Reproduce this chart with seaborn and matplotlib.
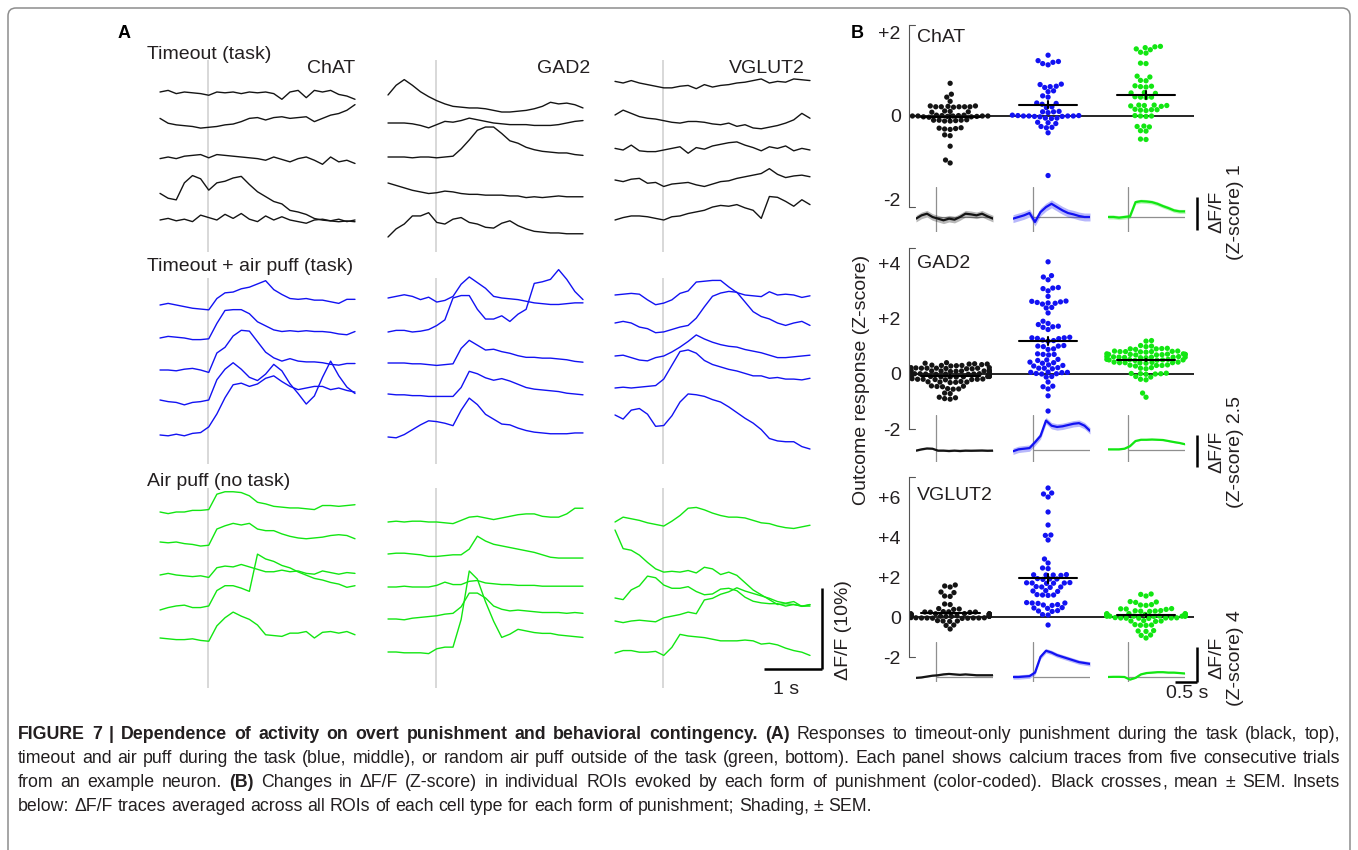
import warnings
warnings.filterwarnings("ignore")
import numpy as np
import pandas as pd
import matplotlib
matplotlib.use("Agg")
import matplotlib.pyplot as plt
import matplotlib.transforms as mtrans
from matplotlib.patches import FancyBboxPatch
import seaborn as sns

# ------------------------------------------------------------------ data
CELL_TYPES = ["ChAT", "GAD2", "VGLUT2"]
CONDITIONS = ["Timeout (task)", "Timeout + air puff (task)", "Air puff (no task)"]
GROUPS = ["Timeout", "Timeout + air puff", "Air puff"]

# sampling times (s) of the example single-trial traces, panel A
TRACE_T = np.linspace(-0.83, 2.53, 25)

# Panel A example traces, dF/F (%) relative to each trace's start level
chat_timeout = [
    [0, 0.2, -0.2, 0, -0.1, -0.2, -0.4, 0, -0.1, 0, -0.2, 0, -0.1, 0, -0.2, -0.9, 0, 0.2, -0.7, 0.2, 0, 0.2, -0.3, -0.5, -0.9],
    [0.2, -0.4, -0.6, -0.7, -0.8, -1.0, -0.9, -0.8, -0.6, -0.5, -0.2, 0.2, 0.3, 0, 0.3, 0.4, 0.2, 0.3, 0.4, -0.2, 0.2, 0.6, 0.8, 1.2, 1.9],
    [-0.2, 0, -0.2, 0.1, 0.2, 0.3, -0.1, 0.3, 0.2, 0.1, 0, -0.1, -0.2, -0.4, 0, -0.3, -0.6, -0.2, 0, -0.4, -0.9, 0, -0.6, -0.4, -0.8],
    [0.2, -0.4, -0.6, 1.5, 2.4, 2.0, 0.6, 1.5, 1.7, 2.1, 2.3, 1.3, 0.4, -0.2, -0.8, -1.1, -1.9, -2.1, -2.4, -2.9, -3.1, -3.2, -3.3, -3.2, -3.3],
    [0, 0.2, -0.1, 0.1, -0.2, 0.6, 0.3, 0, 0.7, 0.2, 0.8, 0.1, -0.2, 0.5, 0, 0.4, 0, -0.2, -0.4, 0, 0.1, -0.1, 0.1, -0.2, 0],
]
gad2_timeout = [
    [0, 1.2, 1.9, 1.2, 0.4, -0.2, -0.7, -1.1, -1.4, -1.5, -1.6, -1.6, -1.7, -1.9, -2.1, -2.1, -2.0, -1.9, -1.7, -1.4, -0.9, -1.1, -1.0, -1.2, -1.6],
    [0, 0, 0, -0.1, -0.3, -0.6, -0.2, 0.2, 0.1, 0.3, 0.6, 0.4, 0.2, 0, -0.1, -0.2, -0.2, -0.2, -0.3, -0.3, -0.3, -0.2, 0, 0.2, 0.3],
    [0, 0, 0, -0.1, 0, 0, -0.1, 0, 0.1, 1.0, 2.1, 3.3, 3.7, 3.7, 2.9, 2.0, 1.7, 1.2, 0.9, 0.7, 0.6, 0.5, 0.5, 0.3, 0.2],
    [0, -0.3, -0.6, -0.9, -1.1, -1.3, -1.2, -1.0, -1.1, -1.3, -1.4, -1.4, -1.5, -1.5, -1.5, -1.6, -1.6, -1.8, -1.7, -1.8, -1.7, -1.6, -1.7, -1.7, -1.7],
    [0, 1.0, 1.6, 2.6, 2.6, 3.0, 1.8, 1.6, 2.2, 2.4, 1.8, 1.6, 1.2, 1.1, 1.7, 2.0, 1.4, 1.0, 0.7, 0.6, 0.5, 0.5, 0.4, 0.4, 0.4],
]
vglut2_timeout = [
    [0.2, 0, 0.3, 0, -0.2, -0.4, -0.6, -0.6, -0.4, -0.3, -0.7, -0.2, -0.5, -0.3, -0.2, 0, 0.1, 0.3, 0.5, 0, 0.2, 0.1, 0.5, 0.4, 0.3],
    [0, 0.6, 0.2, -0.2, -0.4, -0.5, -0.7, -0.9, -1.0, -0.8, -0.8, -0.9, -1.1, -1.2, -1.0, -1.4, -1.2, -1.6, -1.7, -1.5, -1.3, -1.0, -0.6, 0.2, -0.4],
    [0.2, 0, 0.6, -0.1, -0.2, -0.2, 0, 0.2, 0.4, -0.4, 0.3, 0.1, 0.5, 0.7, 0.9, 1.0, 0.6, 0.3, -0.1, 0.4, 0.2, 0.5, -0.1, 0.2, 0],
    [0, -0.2, 0.1, 0.2, -0.4, -0.3, -0.8, -0.5, -0.4, -0.3, -0.6, -0.8, -0.5, -0.2, -0.1, 0.2, 0.4, 0.6, 0.8, 1.4, 0.7, 0.3, 0.5, 0.6, 0.4],
    [0, 0.3, 0.5, 0.5, 0.4, 0.2, 0, 0.4, 0.5, 0.8, 1.0, 1.2, 1.6, 1.8, 1.7, 1.9, 1.5, 1.2, 0.2, 2.9, 2.8, 2.3, 1.7, 2.5, 1.9],
]
chat_puff_task = [
    [0, 0.2, 0, -0.2, -0.4, -0.5, -0.6, 0.8, 1.5, 1.6, 2.0, 2.2, 2.6, 3.0, 1.9, 1.3, 0.8, 0.7, 0.8, 0.6, 0.6, 0.4, 0.2, 0.7, 0.7],
    [0, 0.2, 0.1, 0, -0.2, -0.2, -0.1, 1.8, 3.4, 3.5, 3.5, 3.0, 2.0, 1.5, 1.0, 0.8, 0.9, 0.8, 0.9, 0.8, 0.8, 0.7, 0.5, 0.4, 0.8],
    [0, 0, -0.1, 0.1, 0.2, 0, -0.3, 2.1, 2.8, 4.2, 4.9, 4.8, 3.5, 2.2, 1.5, 1.1, 1.4, 1.1, 1.0, 1.0, 0.9, 0.7, 0.6, 0.8, 0.8],
    [0, -0.2, -0.3, -0.6, -0.3, -0.2, 0.0, 2.5, 3.8, 4.6, 3.8, 2.8, 2.4, 3.2, 4.4, 3.6, 2.0, 0.8, -0.5, 0.5, 2.8, 4.8, 3.0, 1.6, 0.8],
    [0, -0.1, 0.1, -0.1, 0.2, 0.3, 1.0, 2.6, 4.6, 6.2, 6.4, 6.0, 6.3, 7.0, 7.3, 6.6, 6.0, 5.6, 5.8, 6.0, 6.0, 5.6, 5.8, 5.5, 5.3],
]
gad2_puff_task = [
    [0, 0.2, 0.4, 0.2, -0.2, 0.1, -0.5, -0.3, 0.2, 1.7, 2.6, 1.9, 1.2, 0.2, 0, -0.1, -0.2, -0.4, -0.6, -0.7, -0.8, -0.8, -0.7, -0.6, -0.6],
    [0, 0.2, 0.2, 0, 0.1, 0.3, 0.8, 1.5, 4.2, 4.5, 4.5, 2.8, 1.6, 1.6, 2.0, 1.3, 2.2, 2.8, 6.0, 6.2, 6.5, 7.7, 6.5, 5.0, 4.0],
    [0, 0, 0, -0.1, -0.1, -0.2, -0.3, -0.2, -0.1, 1.8, 2.8, 2.2, 1.6, 1.7, 1.4, 1.2, 0.9, 0.7, 0.7, 0.6, 0.6, 0.5, 0.4, 0.2, 0.1],
    [0, -0.1, -0.1, -0.2, -0.2, -0.3, -0.3, -0.3, -0.3, 0.8, 2.8, 2.5, 2.0, 1.7, 1.9, 1.6, 1.2, 0.8, 0.6, 0.5, 0.4, 0.3, 0.1, 0, -0.1],
    [0, -0.1, 0.3, 0.9, 1.5, 2.0, 1.9, 1.7, 1.4, 3.3, 4.8, 4.0, 2.8, 2.2, 1.6, 1.5, 1.1, 0.8, 0.6, 0.5, 0.4, 0.4, 0.4, 0.5, 0.5],
]
vglut2_puff_task = [
    [0, 0.1, 0.2, 0.1, -0.6, -1.2, -1.0, -0.6, 0.2, 0.5, 1.6, 1.7, 1.8, 1.8, 1.0, 0.3, 0, -0.1, -0.2, 0.4, 0, 0.1, 0, -0.3, -0.1],
    [0, 0.2, 0, -0.5, -0.7, -1.2, -1.1, -0.8, -0.5, -0.3, 0.6, 2.0, 3.3, 3.7, 3.9, 3.8, 2.6, 1.4, 0.8, 0.5, 0, -0.3, 0, 0.2, -0.3],
    [0, 0.1, -0.2, -0.5, -0.6, -0.2, 0, 0.5, 1.1, 1.8, 2.6, 2.1, 1.7, 1.4, 1.2, 1.1, 0.8, 0.6, 0.4, 0.1, -0.2, -0.2, -0.1, 0, 0.1],
    [0, 0.1, 0, 0.1, 0.2, 0.3, 1.1, 2.8, 4.5, 4.7, 4.3, 3.4, 2.9, 2.6, 2.3, 2.1, 1.8, 1.5, 1.5, 1.2, 1.3, 1.1, 1.1, 1.0, 1.2],
    [0, -0.5, 0.6, 0.8, 0.1, -1.4, -1.3, -0.1, 1.6, 2.6, 2.5, 2.3, 1.9, 1.6, 1.0, 0.3, -0.4, -1.0, -1.8, -2.9, -3.2, -3.3, -3.3, -3.9, -4.2],
]
chat_puff_notask = [
    [0, -0.2, 0, 0, 0.2, 0.2, 0.3, 2.2, 2.5, 2.5, 2.4, 2.0, 1.2, 1.0, 0.7, 0.6, 0.5, 0.5, 0.4, 0.3, 0.8, 0.8, 0.7, 0.8, 0.9],
    [0, -0.1, 0, -0.2, -0.3, -0.5, -0.4, 1.6, 2.0, 2.3, 2.1, 2.3, 1.6, 1.4, 1.4, 1.0, 0.7, 0.5, 0.4, 0.5, 0.6, 0.8, 0.9, 0.8, 0.4],
    [0, 0.2, 0, -0.1, -0.2, -0.1, -0.3, 0.9, 1.1, 1.0, 1.3, 1.0, 0.7, 0.4, 0.4, 0.6, 0.4, 0.5, 0.2, 0.1, 0.5, 0.3, 0.1, 0.3, 0.2],
    [0, 0.3, 0.5, 0.6, 0.3, 0.3, 0.5, 2.4, 3.0, 3.0, 2.7, 2.3, 6.9, 6.3, 6.0, 5.5, 5.2, 4.7, 4.3, 3.9, 3.7, 3.4, 3.2, 2.8, 3.0],
    [0, -0.1, -0.2, -0.2, -0.1, -0.3, -0.4, 1.5, 2.5, 3.2, 2.7, 2.3, 1.6, 0.4, 0.3, 0.2, 0.6, 0.6, 0.8, 0, 0.7, 0.8, 0.6, 0.8, 0.4],
]
gad2_puff_notask = [
    [0, 0.1, 0, 0.1, 0.1, 0, 0, -0.1, -0.2, 0.2, 0.6, 0.7, 0.5, 0.3, 0.5, 0.7, 0.9, 1.0, 1.0, 0.7, 0.6, 0.6, 1.0, 1.7, 1.7],
    [0, 0.1, 0.1, 0, -0.1, -0.3, -0.3, -0.2, -0.1, -0.1, 0.6, 2.2, 1.6, 1.2, 1.0, 0.8, 0.6, 0.4, 0.2, -0.1, -0.4, -0.5, -0.5, -0.5, -0.5],
    [0, 0, 0.1, 0, 0, 0, 0.2, 0.6, 0.3, 0.3, 0.7, 0.8, 0.5, 0.4, 0.3, 0.3, 0.2, 0.2, 0.2, 0.1, 0.1, 0.1, 0.1, 0.1, 0.1],
    [0, 0, -0.1, 0.1, 0.2, 0.3, 0.4, 0.6, 0.7, 1.5, 3.2, 3.2, 2.6, 1.6, 1.2, 1.0, 1.1, 1.0, 0.9, 0.8, 0.8, 0.8, 0.7, 0.8, 0.7],
    [0, 0, -0.1, -0.1, -0.1, -0.2, 0.4, 0.6, 0.6, 4.0, 10.0, 9.0, 6.2, 3.8, 1.8, 2.2, 2.8, 2.6, 2.4, 2.3, 2.3, 2.1, 2.0, 1.9, 1.8],
]
vglut2_puff_notask = [
    [0, 0.6, 0.4, 0.2, -0.1, -0.3, -0.5, 0.1, 0.8, 1.7, 1.8, 1.5, 1.1, 0.8, 0.6, 0.6, 0.5, 0.2, -0.1, -0.2, -0.5, -0.7, -0.8, -0.6, -0.4],
    [0, -2.3, -2.5, -3.1, -4.0, -4.8, -5.2, -5.1, -5.2, -5.0, -5.3, -4.6, -4.8, -5.5, -5.2, -5.6, -6.5, -7.4, -8.0, -8.6, -9.2, -9.1, -9.2, -9.4, -9.2],
    [0, -0.2, 1.0, 1.5, 2.7, 2.5, 1.6, 1.2, 1.2, 1.4, 0.8, 0.4, 0.5, 1.1, 1.2, 0.9, 0.1, -0.4, -0.6, -0.7, -0.7, -1.0, -0.8, -1.0, -1.0],
    [0, -0.2, 0, 0.1, 0, -0.1, 0.4, 0.6, 0.8, 1.1, 0.9, 2.6, 2.8, 3.3, 3.6, 4.1, 3.7, 3.4, 3.1, 2.8, 2.4, 2.2, 2.4, 1.8, 2.0],
    [0, 0.3, 0.3, 0.1, 0.1, 0.2, -0.3, 0.7, 2.3, 2.1, 2.0, 1.9, 1.7, 1.5, 1.5, 1.5, 1.6, 1.5, 1.1, 1.2, 1.0, 0.6, 0.3, 0.1, -0.3],
]
TRACES = [
    [chat_timeout, gad2_timeout, vglut2_timeout],
    [chat_puff_task, gad2_puff_task, vglut2_puff_task],
    [chat_puff_notask, gad2_puff_notask, vglut2_puff_notask],
]

# Panel B: outcome responses (Z-score) of individual ROIs
chat_z_timeout = [0.78, 0.52, 0.45, 0.35, 0.24, 0.22, 0.22, 0.23, 0.21, 0.22, 0.22, 0.24, 0.22, 0.1, 0.11, 0.09, 0.12,
                  0.0, 0.01, -0.02, 0.0, 0.02, -0.03, 0.0, -0.01, 0.01, 0.0, -0.02, 0.02, 0.0, -0.01,
                  -0.1, -0.11, -0.12, -0.1, -0.09, -0.1, -0.12, -0.3, -0.31, -0.29, -0.32, -0.28, -0.45, -0.47, -0.72, -1.05, -1.12]
chat_z_puff_task = [1.45, 1.3, 1.28, 1.32, 1.22, 1.25, 0.76, 0.75, 0.7, 0.71, 0.68, 0.6, 0.58, 0.45, 0.48, 0.3, 0.31, 0.28,
                    0.2, 0.22, 0.1, 0.11, 0.08, 0.1, 0.0, 0.01, -0.01, 0.0, 0.02, -0.02, 0.0, 0.01, 0.0, -0.01,
                    -0.05, -0.06, -0.05, -0.18, -0.15, -0.16, -0.28, -0.25, -0.27, -0.4, -1.42]
chat_z_puff_notask = [1.65, 1.66, 1.63, 1.58, 1.6, 1.5, 1.52, 1.25, 1.26, 0.95, 0.93, 0.85, 0.84, 0.72, 0.7, 0.69, 0.71,
                      0.55, 0.56, 0.54, 0.45, 0.44, 0.46, 0.45, 0.25, 0.26, 0.24, 0.25, 0.23, 0.26, 0.15, 0.14, 0.16,
                      0.15, 0.13, 0.0, 0.01, -0.01, 0.0, -0.25, -0.24, -0.26, -0.35, -0.36, -0.55, -0.56]
gad2_z_timeout = [0.4, 0.38, 0.35, 0.35, 0.33, 0.36, 0.3, 0.3, 0.28, 0.31, 0.29, 0.2, 0.22, 0.2, 0.18, 0.21, 0.19, 0.2,
                  0.22, 0.18, 0.2, 0.1, 0.12, 0.1, 0.08, 0.11, 0.1, 0.09, 0.12, 0.1, 0.1, 0.0, 0.02, -0.01, 0.0, 0.01,
                  -0.02, 0.0, 0.02, 0.0, -0.01, 0.01, 0.0, -0.02, 0.0, 0.01, -0.01, -0.1, -0.11, -0.09, -0.1, -0.12,
                  -0.1, -0.08, -0.1, -0.11, -0.09, -0.1, -0.12, -0.2, -0.21, -0.19, -0.2, -0.22, -0.18, -0.2, -0.21,
                  -0.3, -0.31, -0.29, -0.32, -0.3, -0.28, -0.45, -0.46, -0.44, -0.47, -0.55, -0.56, -0.54, -0.7, -0.72,
                  -0.85, -0.87, -0.9, -0.92]
gad2_z_puff_task = [4.05, 3.55, 3.5, 3.4, 3.1, 3.12, 3.08, 3.0, 2.8, 2.62, 2.6, 2.58, 2.63, 2.55, 2.52, 2.56, 2.4, 2.38,
                    2.2, 1.9, 1.82, 1.78, 1.7, 1.68, 1.72, 1.6, 1.3, 1.32, 1.28, 1.3, 1.27, 1.2, 1.22, 1.18, 1.0, 1.02,
                    0.98, 1.0, 0.9, 0.88, 0.7, 0.72, 0.68, 0.7, 0.52, 0.5, 0.48, 0.4, 0.42, 0.38, 0.3, 0.32, 0.28, 0.2,
                    0.22, 0.18, 0.2, 0.05, 0.04, 0.06, 0.05, 0.0, 0.01, -0.01, -0.1, -0.12, -0.3, -0.45, -0.47, -0.55,
                    -0.8, -1.35]
gad2_z_puff_notask = [1.2, 1.18, 1.0, 1.02, 0.98, 0.9, 0.92, 0.88, 0.9, 0.91, 0.8, 0.82, 0.78, 0.8, 0.81, 0.79, 0.8,
                      0.82, 0.7, 0.72, 0.68, 0.7, 0.71, 0.69, 0.7, 0.72, 0.68, 0.7, 0.6, 0.62, 0.58, 0.6, 0.61, 0.59,
                      0.6, 0.62, 0.58, 0.6, 0.5, 0.52, 0.48, 0.5, 0.51, 0.49, 0.5, 0.52, 0.4, 0.42, 0.38, 0.4, 0.41,
                      0.39, 0.4, 0.42, 0.3, 0.32, 0.28, 0.3, 0.31, 0.2, 0.22, 0.18, 0.0, 0.02, -0.01, 0.0, 0.01, -0.02,
                      -0.1, -0.12, -0.2, -0.22, -0.7, -0.85]
vglut2_z_timeout = [1.6, 1.55, 1.5, 1.25, 1.22, 1.05, 1.03, 0.65, 0.62, 0.4, 0.42, 0.38, 0.25, 0.26, 0.24, 0.25, 0.27,
                    0.23, 0.15, 0.16, 0.14, 0.15, 0.13, 0.17, 0.15, 0.16, 0.14, 0.15, 0.05, 0.06, 0.04, 0.05, 0.07,
                    0.03, 0.05, 0.06, 0.04, 0.05, 0.06, 0.04, 0.05, 0.03, 0.07, -0.05, -0.06, -0.04, -0.05, -0.07,
                    -0.03, -0.05, -0.06, -0.04, -0.05, -0.2, -0.22, -0.18, -0.2, -0.4, -0.42, -0.6]
vglut2_z_puff_task = [6.45, 6.2, 6.15, 6.0, 5.25, 4.6, 4.1, 4.08, 3.85, 2.9, 2.7, 2.45, 2.42, 2.1, 2.12, 2.08, 2.1, 2.11,
                      1.9, 1.92, 1.88, 1.9, 1.7, 1.72, 1.68, 1.7, 1.71, 1.69, 1.5, 1.52, 1.48, 1.5, 1.3, 1.32, 1.28,
                      1.1, 1.12, 1.08, 1.1, 0.7, 0.72, 0.68, 0.7, 0.6, 0.62, 0.58, 0.45, 0.47, 0.43, 0.3, 0.32, 0.28,
                      0.1, 0.12, -0.4]
vglut2_z_puff_notask = [1.15, 1.13, 1.05, 0.75, 0.77, 0.73, 0.6, 0.62, 0.58, 0.4, 0.42, 0.38, 0.41, 0.3, 0.32, 0.28,
                        0.31, 0.29, 0.15, 0.16, 0.14, 0.15, 0.13, 0.17, 0.15, 0.16, 0.05, 0.06, 0.04, 0.05, 0.07, 0.03,
                        0.05, 0.06, 0.04, 0.05, 0.06, 0.04, -0.05, -0.06, -0.04, -0.05, -0.07, -0.03, -0.05, -0.06,
                        -0.2, -0.22, -0.18, -0.2, -0.4, -0.42, -0.38, -0.41, -0.7, -0.72, -0.68, -0.9, -0.92, -1.05]
ZSCORES = [
    [chat_z_timeout, chat_z_puff_task, chat_z_puff_notask],
    [gad2_z_timeout, gad2_z_puff_task, gad2_z_puff_notask],
    [vglut2_z_timeout, vglut2_z_puff_task, vglut2_z_puff_notask],
]
Z_TICKS = [[-2, 0, 2], [-2, 0, 2, 4], [-2, 0, 2, 4, 6]]
Z_TICKLABELS = [["-2", "0", "+2"], ["-2", "0", "+2", "+4"], ["-2", "0", "+2", "+4", "+6"]]

# Panel B insets: averaged dF/F (Z-score) traces and their SEM
INSET_T = np.linspace(-0.45, 1.3, 15)
chat_mean = [
    [-0.05, 0.05, 0.1, 0.0, -0.05, -0.1, -0.05, -0.08, 0.0, 0.1, 0.08, 0.05, 0.1, 0.02, -0.05],
    [-0.05, 0.0, 0.05, 0.12, -0.15, 0.15, 0.3, 0.4, 0.3, 0.2, 0.12, 0.08, 0.03, 0.0, 0.0],
    [0.0, 0.0, -0.02, 0.0, 0.02, 0.45, 0.48, 0.47, 0.45, 0.4, 0.33, 0.27, 0.2, 0.17, 0.17],
]
gad2_mean = [
    [-0.05, 0.05, 0.12, 0.1, -0.05, -0.05, -0.08, -0.05, -0.08, -0.05, -0.06, -0.05, -0.04, -0.06, -0.05],
    [-0.1, 0.05, 0.1, 0.15, 0.6, 1.1, 2.3, 1.9, 1.8, 1.85, 1.95, 2.05, 2.1, 1.9, 1.5],
    [0.05, 0.05, 0.05, 0.1, 0.3, 0.7, 0.8, 0.8, 0.82, 0.8, 0.78, 0.7, 0.62, 0.55, 0.45],
]
vglut2_mean = [
    [-0.1, -0.05, 0.05, 0.15, 0.2, 0.3, 0.35, 0.3, 0.25, 0.3, 0.25, 0.2, 0.2, 0.2, 0.2],
    [0.0, 0.0, 0.05, 0.1, 0.5, 2.3, 3.0, 2.8, 2.5, 2.3, 2.1, 1.9, 1.7, 1.6, 1.5],
    [0.0, 0.02, 0.02, 0.0, -0.3, -0.1, 0.3, 0.45, 0.5, 0.55, 0.55, 0.5, 0.5, 0.45, 0.4],
]
INSET_MEANS = [chat_mean, gad2_mean, vglut2_mean]
INSET_SEM = [[0.1, 0.12, 0.06], [0.06, 0.25, 0.05], [0.06, 0.25, 0.05]]
INSET_SCALE_Z = [1, 2.5, 4]

# ------------------------------------------------------------------ style
sns.set_theme(style="white")
plt.rcParams["font.family"] = ["Liberation Sans", "DejaVu Sans"]
TXT = "#231f20"
COLORS = ["#141414", "#1212f2", "#12e612"]

W, H = 1358, 850
fig = plt.figure(figsize=(W / 100, H / 100), dpi=100)


def px_axes(x0, y0, x1, y1, off=True):
    ax = fig.add_axes([x0 / W, 1 - y1 / H, (x1 - x0) / W, (y1 - y0) / H])
    ax.patch.set_alpha(0)
    if off:
        ax.set_axis_off()
    return ax


def ftext(x, y, s, **kw):
    kw.setdefault("color", TXT)
    return fig.text(x / W, 1 - y / H, s, **kw)


# outer frame
frame = FancyBboxPatch((8, -30), 1342, 872, boxstyle="round,pad=0,rounding_size=8",
                       transform=mtrans.IdentityTransform(), fill=False,
                       ec="#8d8d8d", lw=1.1)
fig.patches.append(frame)

# ------------------------------------------------------------------ panel A
COL_X0 = [160, 388, 615]
TRACE_W = 195
PX_PER_PCT = 8.1
ROW_Y = [(60, 252), (278, 464), (488, 688)]
TRACE_Y0 = [
    [[92, 120, 157, 195, 220], [95, 123, 157, 183, 237], [83, 115, 150, 180, 220]],
    [[305, 338, 370, 400, 435], [298, 332, 363, 394, 437], [295, 323, 356, 388, 415]],
    [[512, 542, 575, 610, 638], [522, 554, 587, 619, 652], [522, 530, 598, 621, 653]],
]
panelA = {}
for r in range(3):
    top, bot = ROW_Y[r]
    for c in range(3):
        ax = px_axes(COL_X0[c], top, COL_X0[c] + TRACE_W, bot)
        ax.axvline(0, color="#d2d2d2", lw=1.2, zorder=0)
        for k, vals in enumerate(TRACES[r][c]):
            off = (bot - TRACE_Y0[r][c][k]) / PX_PER_PCT
            sns.lineplot(x=TRACE_T, y=np.asarray(vals) + off, ax=ax, color=COLORS[r],
                         lw=1.0, clip_on=False, legend=False)
        ax.set_xlim(TRACE_T[0], TRACE_T[-1])
        ax.set_ylim(0, (bot - top) / PX_PER_PCT)
        ax.set_axis_off()
        panelA[(r, c)] = ax

# scale bar A (1 s, 10 % dF/F)
axs = panelA[(2, 2)]
yb = (688 - 669) / PX_PER_PCT
axs.plot([1.74, 2.74], [yb, yb], color="black", lw=1.8, clip_on=False, solid_capstyle="butt")
axs.plot([2.74, 2.74], [yb, yb + 10], color="black", lw=1.8, clip_on=False, solid_capstyle="butt")

ftext(124, 33, "A", fontsize=13, fontweight="bold", ha="center", va="center", color="black")
ftext(147, 59, CONDITIONS[0], fontsize=14, ha="left", va="baseline")
ftext(147, 271, CONDITIONS[1], fontsize=14, ha="left", va="baseline")
ftext(147, 486, CONDITIONS[2], fontsize=14, ha="left", va="baseline")
for c, xr in enumerate([355, 590, 805]):
    ftext(xr, 73, CELL_TYPES[c], fontsize=14, ha="right", va="baseline")
ftext(786, 690, "1 s", fontsize=14, ha="center", va="center")
ftext(843, 630, "ΔF/F (10%)", fontsize=14, ha="center", va="center", rotation=90)

# ------------------------------------------------------------------ panel B
B_X0, B_X1 = 909, 1194
B_ROWS = [(25, 207, -2.17, 2.17), (248, 429, -2.0, 4.55), (477, 657, -2.0, 7.0)]
TITLE_Y = [42, 268, 500]
INSET_X0 = [916, 1013, 1108]
INSET_W = 77
INSET_Y = [(187, 232, 217, 33.0), (415, 462, 450, 12.8), (642, 682, 677, 8.75)]
SCALE_BAR_Y = [(-0.4, 0.6), (-1.3, 1.2), (-0.57, 3.43)]
RIGHT_LABEL_Y = [212, 452, 658]

for r in range(3):
    top, bot, ylo, yhi = B_ROWS[r]
    ax = px_axes(B_X0, top, B_X1, bot, off=False)
    ax.set_ylim(ylo, yhi)
    ax.set_xlim(-0.42, 2.49)
    rows = []
    for g in range(3):
        for v in ZSCORES[r][g]:
            rows.append((GROUPS[g], v))
    df = pd.DataFrame(rows, columns=["group", "z"])
    ax.axhline(0, color="black", lw=1.2, zorder=1)
    sns.swarmplot(data=df, x="group", y="z", hue="group", order=GROUPS, hue_order=GROUPS,
                  palette=COLORS, size=3.8, linewidth=0, ax=ax, legend=False, zorder=2)
    for g in range(3):
        vals = np.asarray(ZSCORES[r][g])
        m = vals.mean()
        s = vals.std(ddof=1) / np.sqrt(len(vals))
        ax.plot([g - 0.3, g + 0.3], [m, m], color="black", lw=1.5, zorder=5)
        ax.plot([g, g], [m - s, m + s], color="black", lw=1.5, zorder=5)
    ax.set_xlim(-0.42, 2.49)
    ax.set_ylim(ylo, yhi)
    for sp in ["top", "right", "bottom"]:
        ax.spines[sp].set_visible(False)
    ax.spines["left"].set_color("#555555")
    ax.spines["left"].set_linewidth(0.8)
    ax.set_xticks([])
    ax.set_yticks(Z_TICKS[r])
    ax.set_yticklabels(Z_TICKLABELS[r])
    ax.tick_params(axis="y", length=0, pad=6, labelsize=14, labelcolor=TXT)
    ax.set_xlabel("")
    ax.set_ylabel("")
    for yy in (0, 1):
        ax.plot([0, 0.02], [yy, yy], transform=ax.transAxes, color="#555555", lw=0.8, clip_on=False)
    ftext(917, TITLE_Y[r], CELL_TYPES[r], fontsize=14, ha="left", va="baseline")

    # insets
    itop, ibot, ibase, ipx = INSET_Y[r]
    for g in range(3):
        iax = px_axes(INSET_X0[g], itop, INSET_X0[g] + INSET_W, ibot)
        iax.axvline(0, color="#8f8f8f", lw=0.9, zorder=0)
        iax.plot([0, INSET_T[-1]], [0, 0], color="#8f8f8f", lw=0.9, zorder=0)
        mtr = np.asarray(INSET_MEANS[r][g])
        sem = INSET_SEM[r][g]
        iax.fill_between(INSET_T, mtr - sem, mtr + sem, color=COLORS[g], alpha=0.3, lw=0, zorder=1)
        sns.lineplot(x=INSET_T, y=mtr, ax=iax, color=COLORS[g], lw=1.6, legend=False, zorder=2)
        iax.set_xlim(INSET_T[0], INSET_T[-1])
        iax.set_ylim(-(ibot - ibase) / ipx, (ibase - itop) / ipx)
        iax.set_axis_off()
        if g == 2:
            y0, y1 = SCALE_BAR_Y[r]
            iax.plot([1.57, 1.57], [y0, y1], color="black", lw=1.8, clip_on=False, solid_capstyle="butt")
            if r == 2:
                iax.plot([1.07, 1.57], [y0, y0], color="black", lw=1.8, clip_on=False, solid_capstyle="butt")
    scale_txt = f"{INSET_SCALE_Z[r]:g}"
    ftext(1226, RIGHT_LABEL_Y[r], "ΔF/F\n(Z-score) " + scale_txt, fontsize=14, ha="center", va="center",
          rotation=90, multialignment="center", linespacing=1.15)

ftext(857, 33, "B", fontsize=13, fontweight="bold", ha="center", va="center", color="black")
ftext(862, 380, "Outcome response (Z-score)", fontsize=14, ha="center", va="center", rotation=90)
ftext(1187, 694, "0.5 s", fontsize=14, ha="center", va="center")

# ------------------------------------------------------------------ caption (justified, word by word)
CAPTION = [
    (739, True, [("FIGURE 7 | Dependence of activity on overt punishment and behavioral contingency. (A)", True),
                 ("Responses to timeout-only punishment during the task (black, top),", False)]),
    (763, True, [("timeout and air puff during the task (blue, middle), or random air puff outside of the task "
                  "(green, bottom). Each panel shows calcium traces from five consecutive trials", False)]),
    (787, True, [("from an example neuron.", False), ("(B)", True),
                 ("Changes in ΔF/F (Z-score) in individual ROIs evoked by each form of punishment "
                  "(color-coded). Black crosses, mean ± SEM. Insets", False)]),
    (811, False, [("below: ΔF/F traces averaged across all ROIs of each cell type for each form of "
                   "punishment; Shading, ± SEM.", False)]),
]
CAP_X0, CAP_X1 = 18, 1340
renderer = fig.canvas.get_renderer()
DESC = set("gjpqy()[];")


def text_width(s, size, bold):
    t = fig.text(0, 0, s, fontsize=size, fontweight="bold" if bold else "normal")
    w = t.get_window_extent(renderer=renderer).width
    t.remove()
    return w


def word_parts(wd):
    """A trailing comma that is the word's only descender is set as its own text,
    so the word keeps the common baseline."""
    if wd.endswith(",") and len(wd) > 1 and not (set(wd[:-1]) & DESC):
        return [wd[:-1], ","]
    return [wd]


fit_fs = 12.0 * 1300 / text_width(CAPTION[1][2][0][0], 12.0, False)
l1 = sum(text_width(s, 12.0, b) for s, b in CAPTION[0][2]) + text_width(" ", 12.0, False)
CAP_FS = min(fit_fs, 12.0 * 1305 / l1)
SPACE_W = text_width("a a", CAP_FS, False) - text_width("aa", CAP_FS, False)

for y, justify, segs in CAPTION:
    units = []
    for s, bold in segs:
        for wd in s.split(" "):
            parts = word_parts(wd)
            ws = [text_width(p, CAP_FS, bold) for p in parts]
            units.append((parts, ws, bold))
    total = sum(sum(ws) for _, ws, _ in units)
    gap = (CAP_X1 - CAP_X0 - total) / (len(units) - 1) if justify else SPACE_W
    x = CAP_X0
    for parts, ws, bold in units:
        for p, w in zip(parts, ws):
            ftext(x, y, p, fontsize=CAP_FS, fontweight="bold" if bold else "normal",
                  ha="left", va="baseline")
            x += w
        x += gap

fig.savefig("out.png", dpi=100)
